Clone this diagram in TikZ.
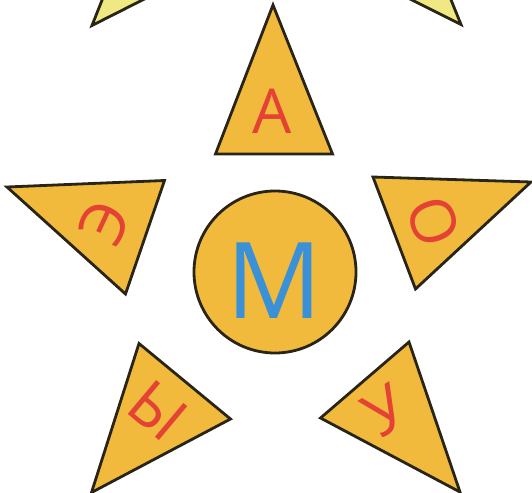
\documentclass[tikz,border=0pt]{standalone}
\usepackage{fontspec}
\setmainfont{Open Sans}
\definecolor{tfill}{RGB}{242,186,60}
\definecolor{pale}{RGB}{240,232,130}
\definecolor{outl}{RGB}{40,36,22}
\definecolor{lred}{RGB}{228,66,52}
\definecolor{lblue}{RGB}{58,145,215}
\tikzset{
  tri/.style={draw=outl, line width=2.8pt, fill=tfill, line join=miter},
  paletri/.style={tri, fill=pale},
  vowel/.style={text=lred, inner sep=0pt, font=\fontsize{62}{62}\selectfont},
}
\begin{document}
\begin{tikzpicture}[x=1pt,y=-1pt]
\useasboundingbox (0,0) rectangle (532,492);
\clip (0,0) rectangle (532,492);
% partial triangles at the top
\coordinate (tl1) at (92,25.5);
\coordinate (tl2) at (110,-20);
\coordinate (tl3) at (182,-20);
\coordinate (tr1) at (461,24.5);
\coordinate (tr2) at (443,-20);
\coordinate (tr3) at (372,-20);
\draw[paletri] (tl1) -- (tl2) -- (tl3) -- cycle;
\draw[paletri] (tr1) -- (tr2) -- (tr3) -- cycle;
% triangle A
\coordinate (a1) at (273,5);
\coordinate (a2) at (215.5,154);
\coordinate (a3) at (332.5,154);
\draw[tri] (a1) -- (a2) -- (a3) -- cycle;
% left triangle
\coordinate (e1) at (7,187);
\coordinate (e2) at (164.5,180.5);
\coordinate (e3) at (125.5,294);
\draw[tri] (e1) -- (e2) -- (e3) -- cycle;
% right triangle
\coordinate (o1) at (373,177);
\coordinate (o2) at (531,182);
\coordinate (o3) at (415.5,289);
\draw[tri] (o1) -- (o2) -- (o3) -- cycle;
% bottom-left triangle
\coordinate (y1) at (139,343.5);
\coordinate (y2) at (230.5,419);
\coordinate (y3) at (91.5,492.5);
\draw[tri] (y1) -- (y2) -- (y3) -- cycle;
% bottom-right triangle
\coordinate (u1) at (409,342);
\coordinate (u2) at (320.5,418);
\coordinate (u3) at (460,492);
\draw[tri] (u1) -- (u2) -- (u3) -- cycle;
% centre circle
\node[circle, draw=outl, line width=2.8pt, fill=tfill, minimum size=162pt, inner sep=0pt] (circ) at (275,272) {};
\node[text=lblue, inner sep=0pt, font=\fontsize{106}{106}\selectfont] (m) at (274,281) {М};
% letters
\node[vowel] (la) at (272,111.5) {А};
\node[vowel, rotate=65] (le) at (105,222) {Э};
\node[vowel, rotate=-70] (lo) at (434,222) {О};
\node[vowel, rotate=-40] (ly) at (158,411) {Ы};
\node[vowel, rotate=32] (lu) at (385,411) {У};
\end{tikzpicture}
\end{document}
